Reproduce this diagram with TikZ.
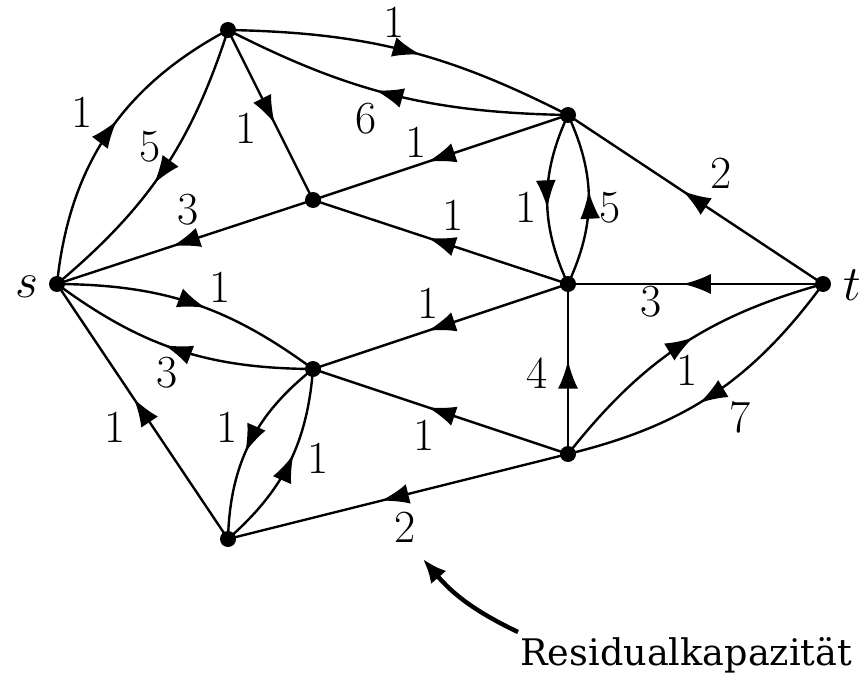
\documentclass[tikz,border=0pt]{standalone}
\usepackage{fontspec}
\newfontfamily\resfont{DejaVu Serif}
\usetikzlibrary{arrows.meta,decorations.markings}
\begin{document}
\begin{tikzpicture}[x=0.5pt,y=-0.5pt,
  dot/.style={circle,fill=black,inner sep=0pt,minimum size=8pt},
  edge/.style={line width=1.2pt},
  midarr/.style={postaction={decorate},decoration={markings,mark=at position #1 with {\arrow{Latex[length=14pt,width=10pt]}}}},
  midarr/.default=0.55,
  lab/.style={font=\fontsize{23}{28}\selectfont, inner sep=0pt}]
\useasboundingbox (0,0) rectangle (866,679);
% vertices
\node[dot] (s) at (57,284) {};
\node[dot] (a) at (228,30) {};
\node[dot] (b) at (313,200) {};
\node[dot] (c) at (568,115) {};
\node[dot] (d) at (568,284) {};
\node[dot] (t) at (823,284) {};
\node[dot] (e) at (313,369) {};
\node[dot] (f) at (228,539) {};
\node[dot] (g) at (568,454) {};
\node[lab] (ls) at (27,287) {$s$};
\node[lab] (lt) at (852,285) {$t$};
% edges
\draw[edge,midarr] (s.center) to[bend left=28] (a.center);
\node[lab] (l1) at (82,112) {1};
\draw[edge,midarr] (a.center) to[bend left=16] (s.center);
\node[lab] (l2) at (150,147) {5};
\draw[edge,midarr] (a.center) -- (b.center);
\node[lab] (l3) at (246,128) {1};
\draw[edge,midarr] (a.center) to[bend left=13] (c.center);
\node[lab] (l4) at (394,22) {1};
\draw[edge,midarr] (c.center) to[bend left=13] (a.center);
\node[lab] (l5) at (366,119) {6};
\draw[edge,midarr] (c.center) -- (b.center);
\node[lab] (l6) at (416,142) {1};
\draw[edge,midarr] (b.center) -- (s.center);
\node[lab] (l7) at (188,210) {3};
\draw[edge,midarr] (d.center) -- (b.center);
\node[lab] (l8) at (453,215) {1};
\draw[edge,midarr] (c.center) to[bend right=25] (d.center);
\node[lab] (l9) at (526,207) {1};
\draw[edge,midarr] (d.center) to[bend right=25] (c.center);
\node[lab] (l10) at (610,208) {5};
\draw[edge,midarr] (t.center) -- (c.center);
\node[lab] (l11) at (721,173) {2};
\draw[edge,midarr] (t.center) -- (d.center);
\node[lab] (l12) at (651,302) {3};
\draw[edge,midarr] (s.center) to[bend left=18] (e.center);
\node[lab] (l13) at (220,287) {1};
\draw[edge,midarr] (e.center) to[bend left=18] (s.center);
\node[lab] (l14) at (167,373) {3};
\draw[edge,midarr] (d.center) -- (e.center);
\node[lab] (l15) at (428,303) {1};
\draw[edge,midarr] (g.center) -- (e.center);
\node[lab] (l16) at (424,435) {1};
\draw[edge,midarr] (f.center) -- (s.center);
\node[lab] (l17) at (115,427) {1};
\draw[edge,midarr] (e.center) to[bend right=25] (f.center);
\node[lab] (l18) at (227,427) {1};
\draw[edge,midarr] (f.center) to[bend right=22] (e.center);
\node[lab] (l19) at (318,458) {1};
\draw[edge,midarr] (g.center) -- (f.center);
\node[lab] (l20) at (405,527) {2};
\draw[edge,midarr] (g.center) -- (d.center);
\node[lab] (l21) at (537,373) {4};
\draw[edge,midarr] (g.center) to[bend left=18] (t.center);
\node[lab] (l22) at (687,370) {1};
\draw[edge,midarr] (t.center) to[bend left=20] (g.center);
\node[lab] (l23) at (740,417) {7};
% annotation
\node[font=\resfont\fontsize{18.3}{22}\selectfont, anchor=base west, inner sep=0pt] (res) at (520,665) {Residualkapazität};
\coordinate (rtail) at (518,632);
\coordinate (rhead) at (423,559);
\draw[line width=2.2pt,-{Latex[length=12pt,width=10pt]}] (rtail) to[bend left=12] (rhead);
\end{tikzpicture}
\end{document}
